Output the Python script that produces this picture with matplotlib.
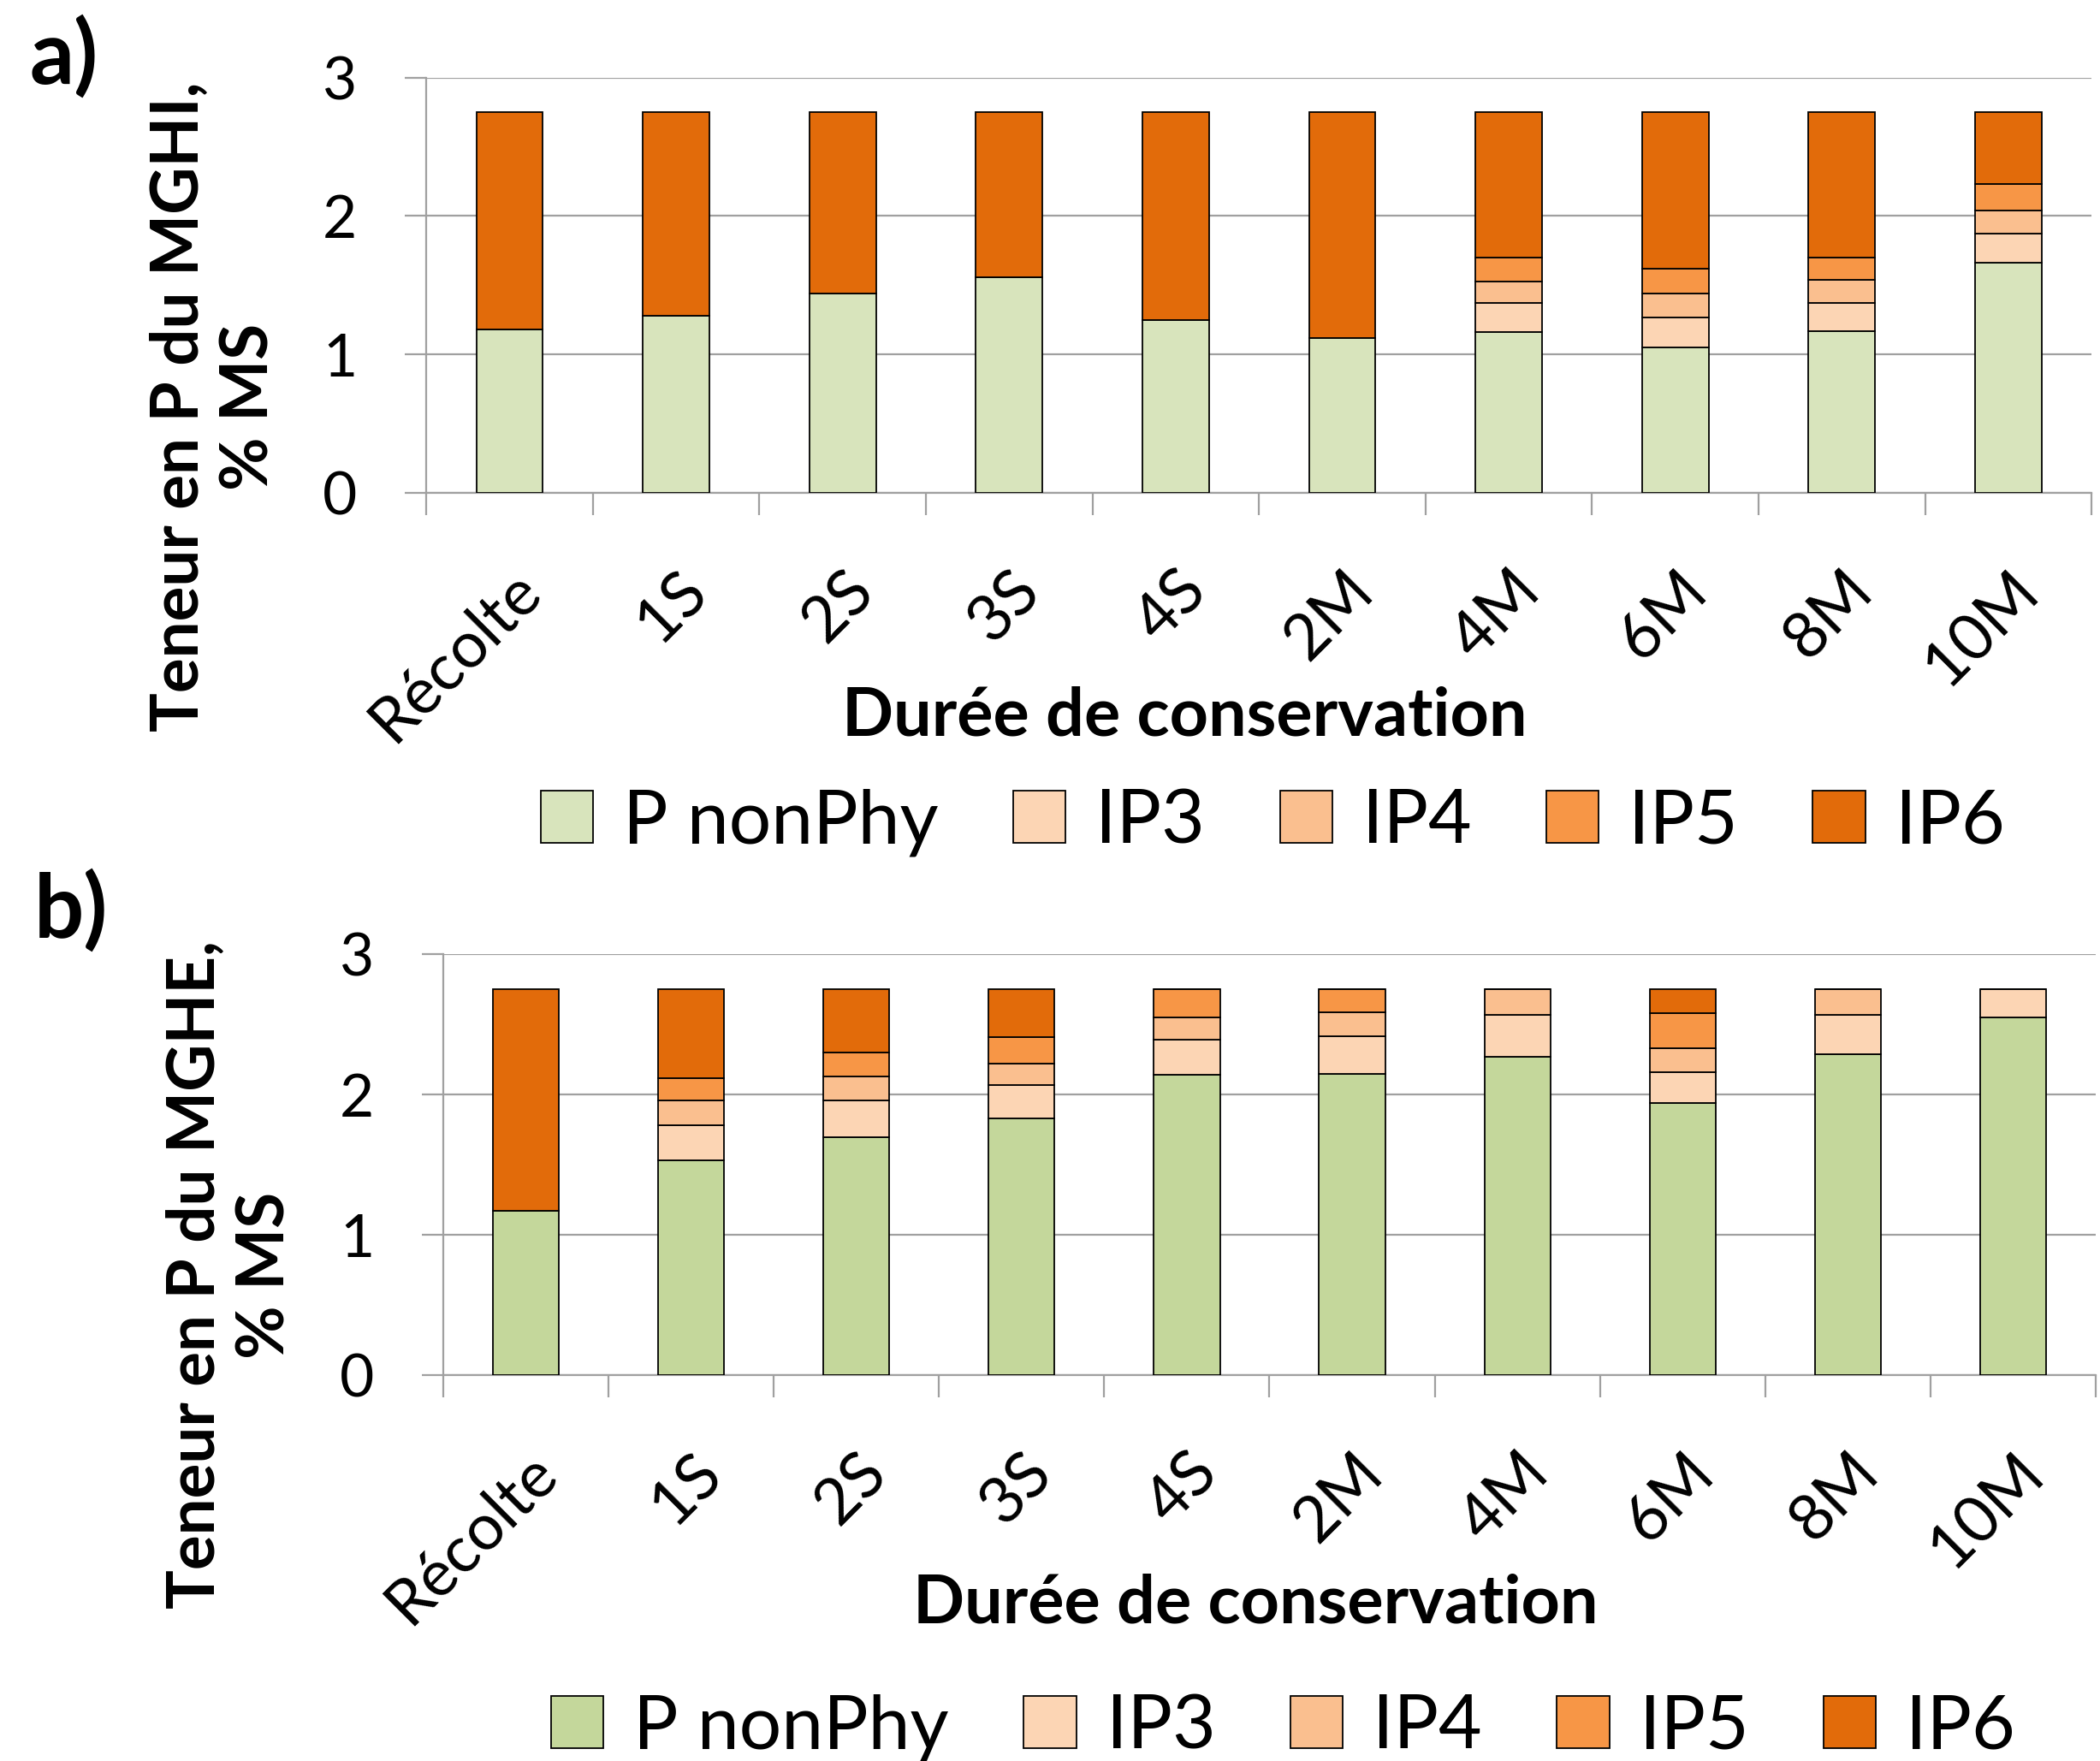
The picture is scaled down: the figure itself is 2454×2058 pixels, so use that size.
import numpy as np
import matplotlib.pyplot as plt
from matplotlib.patches import Patch

plt.rcParams['font.family'] = ['Lato', 'DejaVu Sans']

categories = ['Récolte', '1S', '2S', '3S', '4S', '2M', '4M', '6M', '8M', '10M']
series_names = ['P nonPhy', 'IP3', 'IP4', 'IP5', 'IP6']

# a) MGHI
nonphy_a = [1.18, 1.28, 1.44, 1.56, 1.25, 1.12, 1.16, 1.05, 1.17, 1.66]
ip3_a = [0, 0, 0, 0, 0, 0, 0.21, 0.22, 0.20, 0.21]
ip4_a = [0, 0, 0, 0, 0, 0, 0.16, 0.17, 0.17, 0.17]
ip5_a = [0, 0, 0, 0, 0, 0, 0.17, 0.18, 0.16, 0.19]
ip6_a = [1.57, 1.47, 1.31, 1.19, 1.50, 1.63, 1.05, 1.13, 1.05, 0.52]

# b) MGHE
nonphy_b = [1.17, 1.53, 1.70, 1.83, 2.14, 2.15, 2.27, 1.94, 2.29, 2.55]
ip3_b = [0, 0.25, 0.26, 0.24, 0.25, 0.27, 0.30, 0.22, 0.28, 0.20]
ip4_b = [0, 0.18, 0.17, 0.15, 0.16, 0.17, 0.18, 0.17, 0.18, 0]
ip5_b = [0, 0.16, 0.17, 0.19, 0.20, 0.16, 0, 0.25, 0, 0]
ip6_b = [1.58, 0.63, 0.45, 0.34, 0, 0, 0, 0.17, 0, 0]

orange = ['#FCD5B4', '#FABF8F', '#F79646', '#E26B0A']
green_a = '#D8E4BC'
green_b = '#C4D79B'
grid_col = '#A0A0A0'

fig = plt.figure(figsize=(24.54, 20.58), dpi=100)
ax1 = fig.add_axes([0.203, 0.720, 0.793, 0.236])
ax2 = fig.add_axes([0.211, 0.219, 0.787, 0.239])


def draw(ax, data, colors):
    x = np.arange(len(categories))
    bottom = np.zeros(len(categories))
    for vals, c in zip(data, colors):
        ax.bar(x, vals, 0.4, bottom=bottom, color=c, edgecolor='black',
               linewidth=1.3, zorder=3)
        bottom += np.array(vals)
    ax.set_xlim(-0.5, len(categories) - 0.5)
    ax.set_ylim(0, 3)
    ax.set_yticks([0, 1, 2, 3])
    ax.yaxis.grid(True, color=grid_col, linewidth=1.6, zorder=0)
    for s in ['top', 'right']:
        ax.spines[s].set_visible(False)
    for s in ['left', 'bottom']:
        ax.spines[s].set_color(grid_col)
        ax.spines[s].set_linewidth(1.6)
    ax.set_xticks(x)
    ax.set_xticklabels(categories, rotation=45, ha='right', va='top',
                       rotation_mode='anchor', fontsize=54)
    ax.set_xticks(np.arange(len(categories) + 1) - 0.5, minor=True)
    ax.tick_params(axis='x', which='major', length=0, pad=56)
    ax.tick_params(axis='x', which='minor', length=19, width=1.6,
                   color=grid_col, direction='out')
    ax.tick_params(axis='y', length=18, width=1.6, color=grid_col,
                   labelsize=50, pad=40)


draw(ax1, [nonphy_a, ip3_a, ip4_a, ip5_a, ip6_a], [green_a] + orange)
draw(ax2, [nonphy_b, ip3_b, ip4_b, ip5_b, ip6_b], [green_b] + orange)

# y labels
fig.text(0.102, 0.769, 'Teneur en P du MGHI,\n% MS', rotation=90,
         ha='center', va='center', fontsize=55, fontweight='bold',
         multialignment='center', linespacing=1.2)
fig.text(0.110, 0.276, 'Teneur en P du MGHE,\n% MS', rotation=90,
         ha='center', va='center', fontsize=55, fontweight='bold',
         multialignment='center', linespacing=1.2)

# x labels
fig.text(0.564, 0.593, 'Durée de conservation', ha='center', va='center',
         fontsize=57, fontweight='bold')
fig.text(0.598, 0.089, 'Durée de conservation', ha='center', va='center',
         fontsize=57, fontweight='bold')

# panel letters
fig.text(0.014, 0.992, 'a)', ha='left', va='top', fontsize=74, fontweight='bold')
fig.text(0.016, 0.507, 'b)', ha='left', va='top', fontsize=74, fontweight='bold')

# legends
for y, xc, g in [(0.533, 0.606, green_a), (0.019, 0.611, green_b)]:
    handles = [Patch(facecolor=c, edgecolor='black', linewidth=1.3)
               for c in [g] + orange]
    fig.legend(handles, series_names, loc='center', bbox_to_anchor=(xc, y),
               ncol=5, frameon=False, fontsize=63, handlelength=0.7,
               handleheight=0.7, handletextpad=0.4, columnspacing=1.0)

fig.savefig('out.png', dpi=100)
